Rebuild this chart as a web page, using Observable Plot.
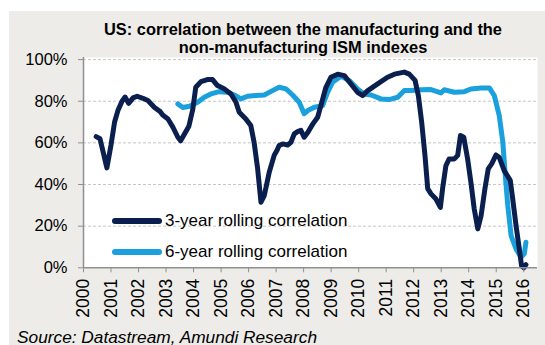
<!DOCTYPE html>
<html><head><meta charset="utf-8">
<script src="https://cdn.jsdelivr.net/npm/d3@7"></script>
<script src="https://cdn.jsdelivr.net/npm/@observablehq/plot@0.6"></script>
<style>
body{margin:0;background:#fff;font-family:"Liberation Sans",Arial,sans-serif;}
#wrap{position:relative;width:545px;height:345px;overflow:hidden;background:#fff;}
#panel{position:absolute;left:9px;top:11px;width:536px;height:334px;background:#edece9;}
#chart{position:absolute;left:0;top:0;}
.title{position:absolute;left:3px;width:600px;text-align:center;font-weight:bold;font-size:16.4px;line-height:17px;white-space:nowrap;color:#000;}
.leg{position:absolute;left:112px;font-size:17px;line-height:20px;white-space:nowrap;color:#000;}
.leg .sw{position:absolute;left:0;top:7px;width:50px;height:6px;border-radius:3px;}
.leg .tx{position:absolute;left:53px;top:0;}
#source{position:absolute;left:17px;top:328.5px;font-size:17.3px;line-height:16px;font-style:italic;white-space:nowrap;color:#000;}
</style>
</head><body>
<div id="wrap">
  <div id="panel"></div>
  <div id="chart"></div>
  <div class="title" style="top:20.5px">US: correlation between the manufacturing and the</div>
  <div class="title" style="top:38.5px">non-manufacturing ISM indexes</div>
  <div class="leg" id="leg1" style="top:211px"><span class="sw"></span><span class="tx"></span></div>
  <div class="leg" id="leg2" style="top:241.5px"><span class="sw"></span><span class="tx"></span></div>
  <div id="source">Source: Datastream, Amundi Research</div>
</div>
<script>
// ---- data ----
const seriesNames = ["3-year rolling correlation", "6-year rolling correlation"];
const seriesColors = ["#0b1f4f", "#1aa0dc"];

const years3 = [2000.46,2000.6,2000.85,2001.0,2001.13,2001.25,2001.4,2001.51,2001.64,2001.8,2001.95,2002.16,2002.34,2002.58,2002.79,2002.88,2003.07,2003.25,2003.43,2003.53,2003.67,2003.83,2003.97,2004.08,2004.27,2004.5,2004.69,2004.87,2005.11,2005.36,2005.54,2005.66,2005.9,2006.08,2006.2,2006.33,2006.45,2006.57,2006.75,2006.93,2007.03,2007.11,2007.24,2007.42,2007.54,2007.66,2007.78,2007.9,2008.02,2008.15,2008.33,2008.51,2008.63,2008.81,2008.99,2009.24,2009.48,2009.72,2009.96,2010.15,2010.33,2010.69,2011.05,2011.3,2011.66,2011.84,2012.05,2012.17,2012.29,2012.41,2012.51,2012.63,2012.81,2012.97,2013.05,2013.17,2013.29,2013.48,2013.6,2013.7,2013.82,2013.96,2014.08,2014.2,2014.33,2014.45,2014.59,2014.71,2014.84,2014.99,2015.11,2015.29,2015.51,2015.6,2015.72,2015.84,2015.92,2016.0,2016.08];
const vals3 = [63,62,48,59,70,75.5,80,82,79,81.6,82.4,81.4,80.3,77,75,73.4,71.5,67.5,62.7,61,64.3,68,76,86.7,89.4,90.4,90.4,87.5,86,83.5,79.5,74.7,71.5,68.3,60.3,47.5,31.5,34.7,45.9,54,56.3,58.7,59.5,59,60.3,64.3,65.4,66,62.7,65,69,72.3,78,86.7,91.5,93,92.3,88.3,84.3,82.7,85.1,88.3,91.5,93,94,93,90,82.7,70,54,38,35.5,33,29,38,49,52.3,52.3,54,63.5,62.7,52.3,41,28.3,18.7,25,38,47.5,50,54.2,53,46.7,42,33,20.3,9,1,0,1.5];

const years6 = [2003.43,2003.61,2003.85,2004.15,2004.39,2004.63,2004.93,2005.24,2005.48,2005.72,2005.96,2006.26,2006.57,2006.87,2007.11,2007.36,2007.6,2007.84,2008.02,2008.15,2008.39,2008.69,2008.87,2009.05,2009.36,2009.66,2009.96,2010.2,2010.45,2010.81,2011.11,2011.42,2011.66,2011.9,2012.27,2012.63,2012.99,2013.11,2013.48,2013.84,2014.08,2014.45,2014.75,2014.93,2015.11,2015.24,2015.32,2015.42,2015.54,2015.72,2015.9,2016.02,2016.08];
const vals6 = [78.7,77,77.6,79.5,81.9,83.5,84.6,84.3,83,81.1,82.4,82.7,83,85.1,86.7,85.9,83,79.5,74,75.5,77.1,77.9,84.3,89.1,92,89.9,85.9,83.5,83,81.1,80.8,81.9,85.1,85.1,85.5,85.6,84,85.5,84.3,84.6,85.9,86.4,86.4,82.7,73.1,60.3,45.9,29.9,15.5,9.1,5.1,6.7,12.3];

const yTicks = [0,20,40,60,80,100];
const xTicks = d3.range(2000, 2017);

// ---- build ----
const data3 = years3.map((x,i)=>({x, y: vals3[i]}));
const data6 = years6.map((x,i)=>({x, y: vals6[i]}));

const chart = Plot.plot({
  width: 545,
  height: 345,
  marginLeft: 83,
  marginRight: 8,
  marginTop: 57,
  marginBottom: 77.7,
  style: {background: "transparent", fontFamily: "'Liberation Sans', Arial, sans-serif", color: "#000"},
  x: {domain: [2000, 2016.5]},
  y: {domain: [0, 101]},
  marks: [
    Plot.frame({fill: "white", stroke: null}),
    Plot.gridY(yTicks.filter(d=>d>0), {stroke: "#c6c6c6", strokeOpacity: 1, strokeDasharray: "3,2"}),
    Plot.line(data6, {x: "x", y: "y", stroke: seriesColors[1], strokeWidth: 5, strokeLinejoin: "round", strokeLinecap: "round"}),
    Plot.line(data3, {x: "x", y: "y", stroke: seriesColors[0], strokeWidth: 5, strokeLinejoin: "round", strokeLinecap: "round"}),
    Plot.ruleY([0], {stroke: "#8f8f8f", strokeWidth: 1.5}),
    Plot.ruleX([2000], {stroke: "#8f8f8f", strokeWidth: 1.5}),
    Plot.axisY({ticks: yTicks, tickFormat: d => d + "%", tickSize: 5, tickPadding: 11, fontSize: 16.5, stroke: "#8f8f8f", label: null}),
    Plot.axisX({ticks: xTicks, tickFormat: d => String(d), tickSize: 5, tickPadding: 6, tickRotate: -90, fontSize: 17.5, stroke: "#8f8f8f", label: null})
  ]
});
document.getElementById("chart").appendChild(chart);

const legs = [document.getElementById("leg1"), document.getElementById("leg2")];
legs.forEach((el,i)=>{
  el.querySelector(".sw").style.background = seriesColors[i];
  el.querySelector(".tx").textContent = seriesNames[i];
});
</script>
</body></html>
